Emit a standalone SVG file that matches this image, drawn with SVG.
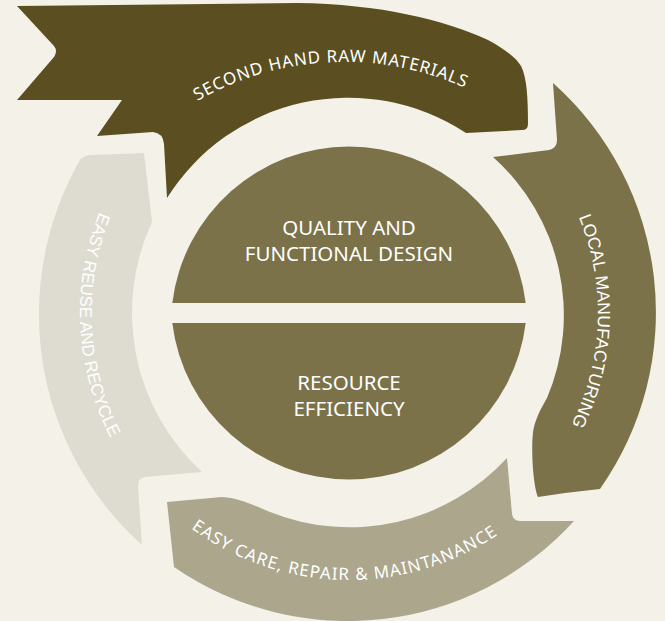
<svg xmlns="http://www.w3.org/2000/svg" xmlns:xlink="http://www.w3.org/1999/xlink" width="665" height="621" viewBox="0 0 665 621">
  <style>
    .bg { fill: #F4F2E8; }
    .dark { fill: #5B4F21; }
    .olive { fill: #7B7249; }
    .tan { fill: #ABA68C; }
    .light { fill: #DEDCD1; }
    .ctext { font-family: "Noto Sans", "Open Sans", sans-serif; font-size: 20.5px; fill: #FFFFFF; text-anchor: middle; }
    .rtext { font-family: "Noto Sans", "Open Sans", sans-serif; font-size: 17px; fill: #FFFFFF; text-anchor: middle; }
    .stext { font-family: "Liberation Sans", Arial, sans-serif; font-size: 17.5px; fill: #FFFFFF; text-anchor: middle; }
  </style>
  <defs>
    <path id="tp-top" d="M81.7,221.9 A295,295 0 0 1 592.1,197.4" fill="none"/>
    <path id="tp-right" d="M480.9,101.8 A249,249 0 0 1 465.9,532.8" fill="none"/>
    <path id="tp-bottom" d="M96.4,399.5 A267,267 0 0 0 598.1,409.1" fill="none"/>
    <path id="tp-left" d="M203.3,86.9 A269,269 0 0 0 226,552.3" fill="none"/>
  </defs>
  <rect class="bg" x="0" y="0" width="665" height="621"/>

  <g id="connectors"></g>

  <g id="second-hand-raw-materials">
    <path class="dark" d="M17,6 L297,3 C380,4 445,20 488,40 C505,49 516,58 521,66 C527,78 528,98 528,124 Q528,130 522,130 L466,133 A214,214 0 0 0 167,198 L164,144 Q163,133 153,132 L97,136 L122,100 L17,100 L54,57 Q58,51 54,46 Z"/>
    <text class="rtext" letter-spacing="0.9"><textPath xlink:href="#tp-top" href="#tp-top" startOffset="50%">SECOND HAND RAW MATERIALS</textPath></text>
  </g>

  <g id="local-manufacturing">
    <path class="olive" d="M553,83 A307,307 0 0 1 600,489 Q570,492 538,497 C533,485 531,450 533,432 C535,420 540,410 547,398 A212,212 0 0 0 493,157 L549,150 Q557,148 557,140 Z"/>
    <text class="stext"><textPath xlink:href="#tp-right" href="#tp-right" startOffset="50%">LOCAL MANUFACTURING</textPath></text>
  </g>

  <g id="easy-care-repair-maintanance">
    <path class="tan" d="M507,458 L512,514 Q513,521 520,521 L574,521 A306,306 0 0 1 174,567 L167,502 L222,497 C240,498 255,506 270,512 A214,214 0 0 0 507,458 Z"/>
    <text class="rtext" letter-spacing="1.1"><textPath xlink:href="#tp-bottom" href="#tp-bottom" startOffset="50%">EASY CARE, REPAIR &amp; MAINTANANCE</textPath></text>
  </g>

  <g id="easy-reuse-and-recycle">
    <path class="light" d="M80,160 Q84,155 92,155 L144,153 L152,222 A216,216 0 0 0 202,472 L145,477 Q138,478 138,486 L142,545 A310,310 0 0 1 80,160 Z"/>
    <text class="stext" style="font-size:17px"><textPath xlink:href="#tp-left" href="#tp-left" startOffset="50%">EASY REUSE AND RECYCLE</textPath></text>
  </g>

  <g id="quality-and-functional-design">
    <path class="olive" d="M172.3,303 A178,178 0 0 1 525.7,303 Z"/>
    <text class="ctext" x="349" y="235">QUALITY AND</text>
    <text class="ctext" x="349" y="260.5">FUNCTIONAL DESIGN</text>
  </g>

  <g id="resource-efficiency">
    <path class="olive" d="M172.3,323 A178,178 0 0 0 525.7,323 Z"/>
    <text class="ctext" x="349" y="390">RESOURCE</text>
    <text class="ctext" x="349" y="415.5">EFFICIENCY</text>
  </g>
</svg>
